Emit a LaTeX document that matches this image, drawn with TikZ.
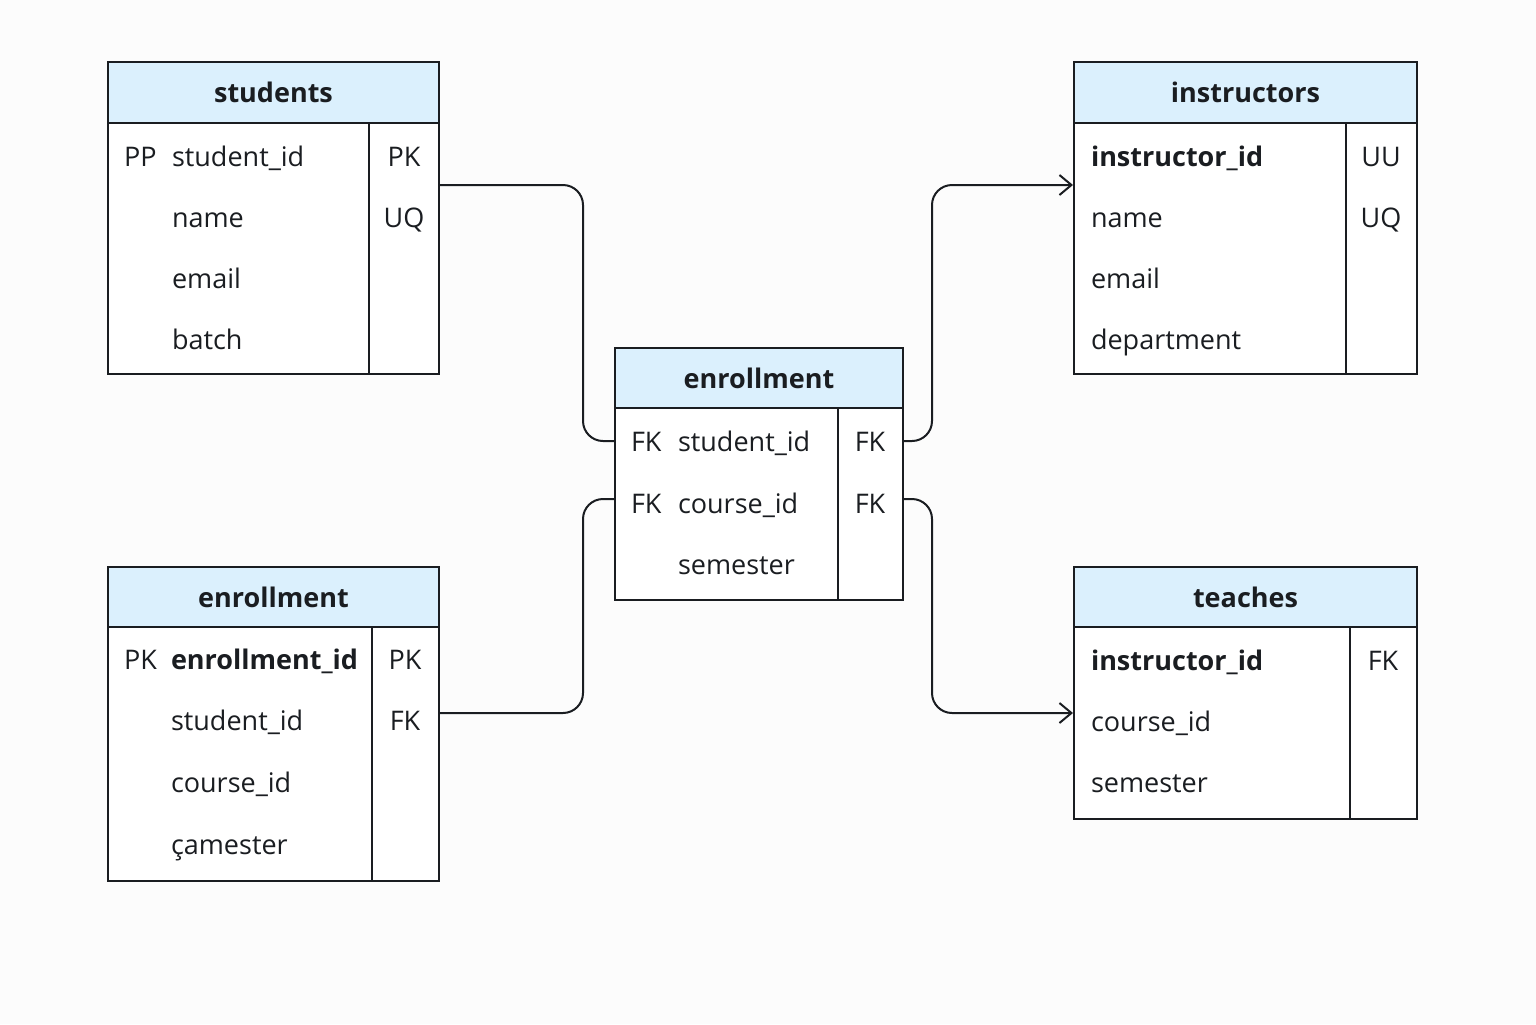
\documentclass[tikz,border=0pt]{standalone}
\usepackage{fontspec}
\setmainfont{Open Sans}
\usetikzlibrary{arrows.meta}
\definecolor{hdrblue}{RGB}{219,240,253}
\definecolor{ink}{RGB}{26,29,33}
\definecolor{paper}{RGB}{252,252,252}
\newcommand{\cellfont}{\fontsize{13.5}{16}\selectfont}

\begin{document}
\begin{tikzpicture}[x=0.5pt,y=-0.5pt,line width=1pt,color=ink,
    hdr/.style={draw,fill=hdrblue,anchor=north west,inner sep=0,font=\cellfont\bfseries},
    tbl/.style={draw,fill=white,anchor=north west,inner sep=0},
    field/.style={anchor=mid west,inner sep=0,font=\cellfont},
    keycell/.style={anchor=mid,inner sep=0,font=\cellfont},
    link/.style={rounded corners=10pt},
    fklink/.style={link,-{Straight Barb[length=6pt,width=10pt]}}]
    \fill[paper] (0,0) rectangle (1536,1024);
    \useasboundingbox (0,0) rectangle (1536,1024);

    % students
    \node[hdr,minimum width=165.5pt,minimum height=30.5pt] (students) at (107,61) {students};
    \node[tbl,minimum width=165.5pt,minimum height=125.5pt] (studentsbody) at (107,122) {};
    \draw (369,122) -- (369,373);
    \node[field] (stu-pp) at (123,161) {PP};
    \node[field] (stu-id) at (171,161) {student\_id};
    \node[field] (stu-name) at (171,222) {name};
    \node[field] (stu-email) at (171,283) {email};
    \node[field] (stu-batch) at (171,344) {batch};
    \node[keycell] (stu-pk) at (404,161) {PK};
    \node[keycell] (stu-uq) at (404,222) {UQ};

    % instructors
    \node[hdr,minimum width=171.5pt,minimum height=30.5pt] (instructors) at (1073,61) {instructors};
    \node[tbl,minimum width=171.5pt,minimum height=125.5pt] (instructorsbody) at (1073,122) {};
    \draw (1346,122) -- (1346,373);
    \node[field,font=\cellfont\bfseries] (ins-id) at (1090,161) {instructor\_id};
    \node[field] (ins-name) at (1090,222) {name};
    \node[field] (ins-email) at (1090,283) {email};
    \node[field] (ins-dept) at (1090,344) {department};
    \node[keycell] (ins-uu) at (1381,161) {UU};
    \node[keycell] (ins-uq) at (1381,222) {UQ};

    % enrollment (centre)
    \node[hdr,minimum width=144pt,minimum height=30pt] (enrollment) at (614,347) {enrollment};
    \node[tbl,minimum width=144pt,minimum height=96pt] (enrollmentbody) at (614,407) {};
    \draw (838,407) -- (838,599);
    \node[field] (enr-fk1) at (630,446) {FK};
    \node[field] (enr-sid) at (677,446) {student\_id};
    \node[field] (enr-fk2) at (630,508) {FK};
    \node[field] (enr-cid) at (677,508) {course\_id};
    \node[field] (enr-sem) at (677,569) {semester};
    \node[keycell] (enr-rk1) at (870,446) {FK};
    \node[keycell] (enr-rk2) at (870,508) {FK};

    % enrollment (lower left)
    \node[hdr,minimum width=165.5pt,minimum height=30pt] (enrollment2) at (107,566) {enrollment};
    \node[tbl,minimum width=165.5pt,minimum height=127pt] (enrollment2body) at (107,626) {};
    \draw (372,626) -- (372,880);
    \node[field] (enb-pk) at (123,664) {PK};
    \node[field,font=\cellfont\bfseries] (enb-id) at (170,664) {enrollment\_id};
    \node[field] (enb-sid) at (170,725) {student\_id};
    \node[field] (enb-cid) at (170,787) {course\_id};
    \node[field] (enb-sem) at (170,849) {çamester};
    \node[keycell] (enb-rk1) at (405,664) {PK};
    \node[keycell] (enb-rk2) at (405,725) {FK};

    % teaches
    \node[hdr,minimum width=171.5pt,minimum height=30pt] (teaches) at (1073,566) {teaches};
    \node[tbl,minimum width=171.5pt,minimum height=96pt] (teachesbody) at (1073,626) {};
    \draw (1350,626) -- (1350,818);
    \node[field,font=\cellfont\bfseries] (tea-id) at (1090,665) {instructor\_id};
    \node[field] (tea-cid) at (1090,726) {course\_id};
    \node[field] (tea-sem) at (1090,787) {semester};
    \node[keycell] (tea-fk) at (1383,665) {FK};

    % ports
    \coordinate (stuport) at (438,185);
    \coordinate (enbport) at (438,713);
    \coordinate (enrin1) at (614,441);
    \coordinate (enrin2) at (614,499);
    \coordinate (enrout1) at (902,441);
    \coordinate (enrout2) at (902,499);
    \coordinate (insport) at (1073,185);
    \coordinate (teaport) at (1073,713);

    \draw[link] (stuport) -- (583,185) |- (enrin1);
    \draw[link] (enbport) -- (583,713) |- (enrin2);
    \draw[fklink] (enrout1) -- (932,441) |- (insport);
    \draw[fklink] (enrout2) -- (932,499) |- (teaport);
\end{tikzpicture}
\end{document}
